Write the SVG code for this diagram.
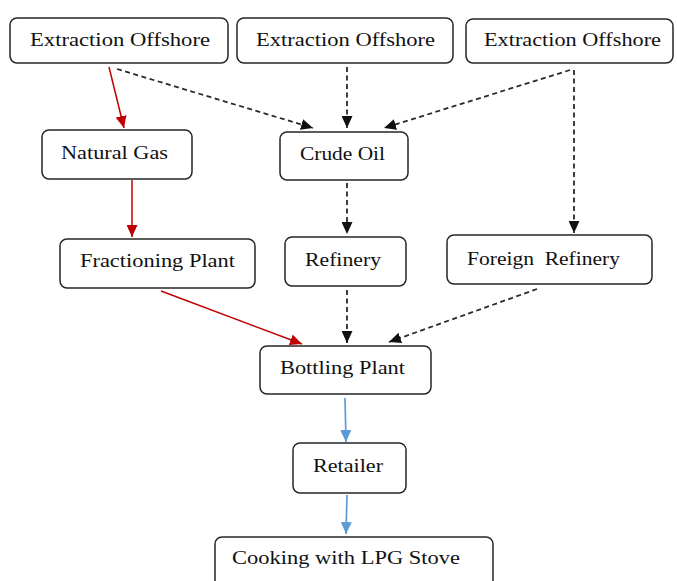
<svg xmlns="http://www.w3.org/2000/svg" width="677" height="581" viewBox="0 0 677 581">
  <style>
    .box { fill: #ffffff; stroke: #262626; stroke-width: 1.5; }
    .lbl { font-family: "Liberation Serif", "Times New Roman", serif; font-size: 19.5px; fill: #111; text-anchor: middle; }
    .red { stroke: #c00000; stroke-width: 1.5; fill: none; }
    .dash { stroke: #2a2a2a; stroke-width: 1.8; fill: none; stroke-dasharray: 5 3.5; }
    .blue { stroke: #5b9bd5; stroke-width: 1.7; fill: none; }
  </style>
  <defs>
    <marker id="arrRed" markerUnits="userSpaceOnUse" markerWidth="13" markerHeight="11" refX="12" refY="5.5" orient="auto">
      <path d="M0,0 L12,5.5 L0,11 z" fill="#c00000"/>
    </marker>
    <marker id="arrBlack" markerUnits="userSpaceOnUse" markerWidth="13" markerHeight="11" refX="12" refY="5.5" orient="auto">
      <path d="M0,0 L12,5.5 L0,11 z" fill="#111"/>
    </marker>
    <marker id="arrBlue" markerUnits="userSpaceOnUse" markerWidth="13" markerHeight="11" refX="12" refY="5.5" orient="auto">
      <path d="M0,0 L12,5.5 L0,11 z" fill="#5b9bd5"/>
    </marker>
  </defs>
  <rect width="677" height="581" fill="#ffffff"/>

  <!-- connectors -->
  <g id="connectors">
    <path class="red" d="M109,67 L124,128" marker-end="url(#arrRed)"/>
    <path class="red" d="M132,180 L132,237" marker-end="url(#arrRed)"/>
    <path class="red" d="M161,291 L302,344" marker-end="url(#arrRed)"/>
    <path class="dash" d="M117,69 L313,128" marker-end="url(#arrBlack)"/>
    <path class="dash" d="M347,67 L347,128" marker-end="url(#arrBlack)"/>
    <path class="dash" d="M570,70 L384,128" marker-end="url(#arrBlack)"/>
    <path class="dash" d="M574,70 L574,233" marker-end="url(#arrBlack)"/>
    <path class="dash" d="M347,183 L347,234" marker-end="url(#arrBlack)"/>
    <path class="dash" d="M347,290 L347,343" marker-end="url(#arrBlack)"/>
    <path class="dash" d="M537,289 L389,342" marker-end="url(#arrBlack)"/>
    <path class="blue" d="M345,398 L346,442" marker-end="url(#arrBlue)"/>
    <path class="blue" d="M347,495 L346,534" marker-end="url(#arrBlue)"/>
  </g>

  <!-- nodes -->
  <g id="extraction1">
    <rect class="box" x="10" y="18" width="218" height="45" rx="7"/>
    <text class="lbl" x="120" y="46" textLength="180" lengthAdjust="spacingAndGlyphs">Extraction Offshore</text>
  </g>
  <g id="extraction2">
    <rect class="box" x="237" y="18" width="216" height="45" rx="7"/>
    <text class="lbl" x="345.5" y="46" textLength="179" lengthAdjust="spacingAndGlyphs">Extraction Offshore</text>
  </g>
  <g id="extraction3">
    <rect class="box" x="466" y="19" width="207" height="44" rx="7"/>
    <text class="lbl" x="572.5" y="46" textLength="177" lengthAdjust="spacingAndGlyphs">Extraction Offshore</text>
  </g>
  <g id="natural-gas">
    <rect class="box" x="42" y="130" width="150" height="49" rx="7"/>
    <text class="lbl" x="114.5" y="159" textLength="107" lengthAdjust="spacingAndGlyphs">Natural Gas</text>
  </g>
  <g id="crude-oil">
    <rect class="box" x="280" y="132" width="128" height="48" rx="7"/>
    <text class="lbl" x="342.5" y="160" textLength="85" lengthAdjust="spacingAndGlyphs">Crude Oil</text>
  </g>
  <g id="fractioning-plant">
    <rect class="box" x="60" y="239" width="195" height="49" rx="7"/>
    <text class="lbl" x="157.5" y="267" textLength="155" lengthAdjust="spacingAndGlyphs">Fractioning Plant</text>
  </g>
  <g id="refinery">
    <rect class="box" x="285" y="237" width="121" height="49" rx="7"/>
    <text class="lbl" x="343" y="266" textLength="76" lengthAdjust="spacingAndGlyphs">Refinery</text>
  </g>
  <g id="foreign-refinery">
    <rect class="box" x="447" y="235" width="205" height="49" rx="7"/>
    <text class="lbl" x="543.5" y="265" textLength="153" lengthAdjust="spacingAndGlyphs" xml:space="preserve">Foreign  Refinery</text>
  </g>
  <g id="bottling-plant">
    <rect class="box" x="260" y="346" width="171" height="48" rx="7"/>
    <text class="lbl" x="342.5" y="374" textLength="125" lengthAdjust="spacingAndGlyphs">Bottling Plant</text>
  </g>
  <g id="retailer">
    <rect class="box" x="293" y="443" width="113" height="50" rx="7"/>
    <text class="lbl" x="348" y="472" textLength="70" lengthAdjust="spacingAndGlyphs">Retailer</text>
  </g>
  <g id="cooking">
    <rect class="box" x="215" y="537" width="278" height="56" rx="7"/>
    <text class="lbl" x="346" y="564" textLength="228" lengthAdjust="spacingAndGlyphs">Cooking with LPG Stove</text>
  </g>
</svg>
